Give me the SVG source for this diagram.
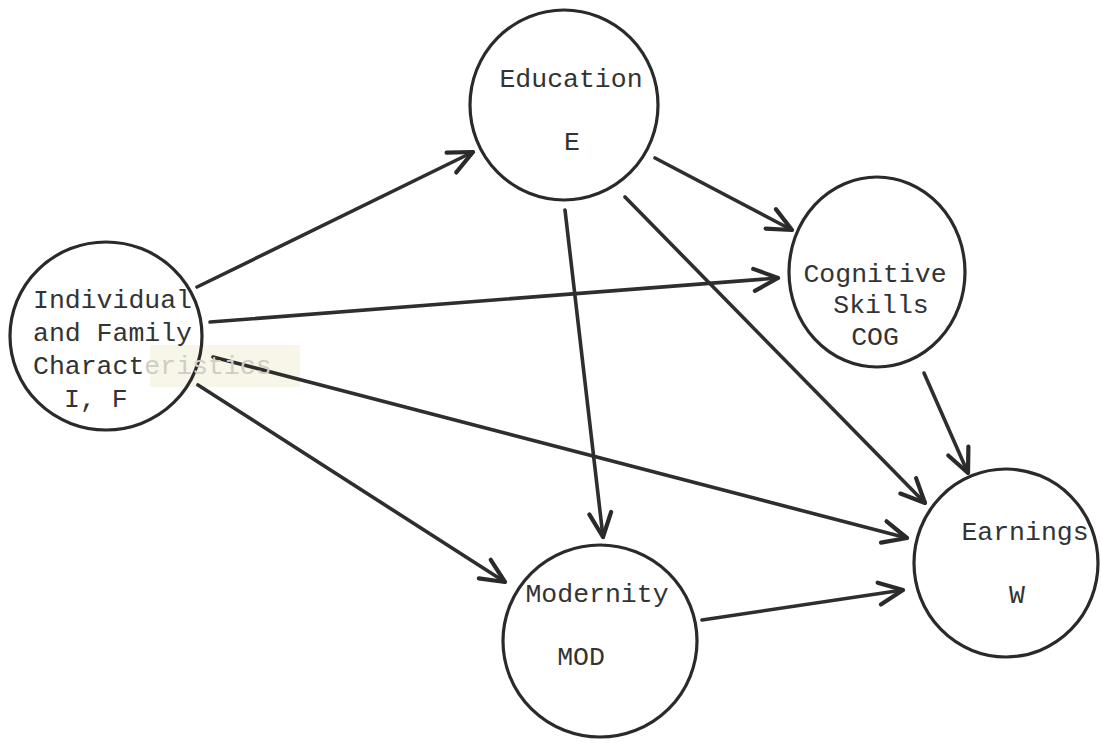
<svg xmlns="http://www.w3.org/2000/svg" width="1101" height="743" viewBox="0 0 1101 743">
<style>
.node{fill:none;stroke:#2a2a2a;stroke-width:3.2}
.lbl{font-family:"Liberation Mono","DejaVu Sans Mono",monospace;font-size:26.5px;fill:#333}
.c{text-anchor:middle}
.edge{fill:none;stroke:#2e2e2e;stroke-width:3.6;stroke-linecap:round;marker-end:url(#ah)}
.faded{fill:#cfcdc4}
</style>
<defs>
<marker id="ah" markerUnits="userSpaceOnUse" markerWidth="40" markerHeight="40" refX="0" refY="0" viewBox="-30 -20 40 40" orient="auto" overflow="visible">
<path d="M-24,-11 L0,0 L-24,11" fill="none" stroke="#2a2a2a" stroke-width="4.2" stroke-linecap="round" stroke-linejoin="round"/>
</marker>
</defs>
<rect width="1101" height="743" fill="#ffffff"/>
<rect x="150" y="345" width="150" height="42" fill="#f8f6e8"/>
<g id="edges">
<path class="edge" d="M197,287 L473,152"/>
<path class="edge" d="M210,322 L778,278"/>
<path class="edge" d="M213,357 L907,538"/>
<path class="edge" d="M198,385 L505,582"/>
<path class="edge" d="M565,210 L603,537"/>
<path class="edge" d="M655,158 L792,230"/>
<path class="edge" d="M625,197 L925,503"/>
<path class="edge" d="M924,373 L968,473"/>
<path class="edge" d="M702,620 L903,590"/>
</g>
<g id="node-individual">
<ellipse class="node" cx="106" cy="336" rx="96" ry="94"/>
<text class="lbl" x="33" y="308">Individual</text>
<text class="lbl" x="33" y="341">and Family</text>
<text class="lbl" x="33" y="374">Charact<tspan class="faded">eristics</tspan></text>
<text class="lbl" x="64" y="407">I, F</text>
</g>
<g id="node-education">
<ellipse class="node" cx="564" cy="105" rx="94" ry="95"/>
<text class="lbl c" x="571" y="87">Education</text>
<text class="lbl c" x="572" y="150">E</text>
</g>
<g id="node-cognitive">
<ellipse class="node" cx="877" cy="272" rx="88" ry="95"/>
<text class="lbl c" x="875" y="282">Cognitive</text>
<text class="lbl c" x="881" y="313">Skills</text>
<text class="lbl c" x="875" y="345">COG</text>
</g>
<g id="node-earnings">
<ellipse class="node" cx="1006" cy="563" rx="92" ry="94"/>
<text class="lbl c" x="1025" y="540">Earnings</text>
<text class="lbl c" x="1017" y="603">W</text>
</g>
<g id="node-modernity">
<ellipse class="node" cx="600" cy="641" rx="97" ry="96"/>
<text class="lbl c" x="597" y="602">Modernity</text>
<text class="lbl c" x="581" y="665">MOD</text>
</g>
</svg>
